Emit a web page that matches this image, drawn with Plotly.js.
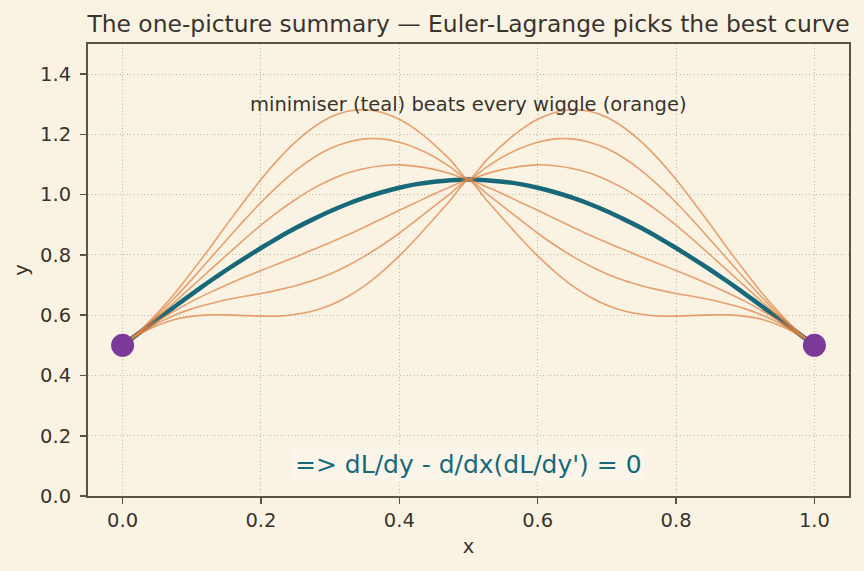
<!DOCTYPE html>
<html>
<head>
<meta charset="utf-8">
<script src="https://cdn.plot.ly/plotly-3.0.1.min.js"></script>
<style>
  html, body { margin: 0; padding: 0; background: #faf3e4; }
  #chart { width: 864px; height: 571px; }
</style>
</head>
<body>
<div id="chart"></div>
<script>
// sample positions along x
const xs = [0.000,0.025,0.050,0.075,0.100,0.125,0.150,0.175,0.200,0.225,0.250,0.275,0.300,0.325,0.350,0.375,0.400,0.425,0.450,0.475,0.500,
            0.525,0.550,0.575,0.600,0.625,0.650,0.675,0.700,0.725,0.750,0.775,0.800,0.825,0.850,0.875,0.900,0.925,0.950,0.975,1.000];

// the minimising curve
const yBest = [0.500,0.543,0.586,0.628,0.670,0.711,0.750,0.787,0.823,0.857,0.889,0.918,0.945,0.969,0.990,1.008,1.023,1.035,1.043,1.048,1.050,
               1.048,1.043,1.035,1.023,1.008,0.990,0.969,0.945,0.918,0.889,0.857,0.823,0.787,0.750,0.711,0.670,0.628,0.586,0.543,0.500];

// perturbed competitors (same end points, same midpoint)
const yUp3 = [0.500,0.548,0.606,0.671,0.744,0.820,0.899,0.976,1.050,1.117,1.175,1.222,1.257,1.277,1.282,1.273,1.250,1.214,1.167,1.112,1.050,
              1.112,1.167,1.214,1.250,1.273,1.282,1.277,1.257,1.222,1.175,1.117,1.050,0.976,0.899,0.820,0.744,0.671,0.606,0.548,0.500];
const yUp2 = [0.500,0.547,0.599,0.657,0.719,0.784,0.849,0.913,0.974,1.030,1.080,1.121,1.153,1.174,1.185,1.185,1.174,1.154,1.126,1.090,1.050,
              1.090,1.126,1.154,1.174,1.185,1.185,1.174,1.153,1.121,1.080,1.030,0.974,0.913,0.849,0.784,0.719,0.657,0.599,0.547,0.500];
const yUp1 = [0.500,0.545,0.593,0.643,0.695,0.747,0.799,0.850,0.899,0.944,0.984,1.020,1.049,1.072,1.087,1.096,1.099,1.094,1.084,1.069,1.050,
              1.069,1.084,1.094,1.099,1.096,1.087,1.072,1.049,1.020,0.984,0.944,0.899,0.850,0.799,0.747,0.695,0.643,0.593,0.545,0.500];
const yDn1 = [0.500,0.542,0.580,0.614,0.646,0.674,0.700,0.725,0.748,0.771,0.793,0.817,0.841,0.866,0.893,0.920,0.948,0.975,1.002,1.027,1.050,
              1.027,1.002,0.975,0.948,0.920,0.893,0.866,0.841,0.817,0.793,0.771,0.748,0.725,0.700,0.674,0.646,0.614,0.580,0.542,0.500];
const yDn2 = [0.500,0.540,0.573,0.600,0.621,0.637,0.651,0.662,0.672,0.684,0.698,0.715,0.737,0.764,0.796,0.832,0.872,0.916,0.961,1.006,1.050,
              1.006,0.961,0.916,0.872,0.832,0.796,0.764,0.737,0.715,0.698,0.684,0.672,0.662,0.651,0.637,0.621,0.600,0.573,0.540,0.500];
const yDn3 = [0.500,0.538,0.566,0.586,0.596,0.601,0.601,0.599,0.597,0.597,0.603,0.614,0.633,0.661,0.698,0.744,0.797,0.856,0.920,0.985,1.050,
              0.985,0.920,0.856,0.797,0.744,0.698,0.661,0.633,0.614,0.603,0.597,0.597,0.599,0.601,0.601,0.596,0.586,0.566,0.538,0.500];

// fixed boundary points
const xEnds = [0, 1];
const yEnds = [0.5, 0.5];

const TEAL = '#17697a';
const ORANGE = 'rgba(224,128,62,0.72)';
const PURPLE = '#7b3a98';
const INK = '#3a332d';
const BG = '#faf3e4';
const FONT = 'DejaVu Sans';

const wiggles = [yUp3, yUp2, yUp1, yDn1, yDn2, yDn3];

const traces = [
  {
    x: xs, y: yBest, mode: 'lines', type: 'scatter',
    line: { color: TEAL, width: 4.5, shape: 'spline', smoothing: 0.6 },
    hoverinfo: 'skip', showlegend: false
  }
];
wiggles.forEach(w => traces.push({
  x: xs, y: w, mode: 'lines', type: 'scatter',
  line: { color: ORANGE, width: 1.6, shape: 'spline', smoothing: 0.6 },
  hoverinfo: 'skip', showlegend: false
}));
traces.push({
  x: xEnds, y: yEnds, mode: 'markers', type: 'scatter',
  marker: { color: PURPLE, size: 23 },
  hoverinfo: 'skip', showlegend: false
});

const axisCommon = {
  showline: true, mirror: true, linecolor: '#5c5347', linewidth: 2,
  ticks: 'outside', ticklen: 6, tickwidth: 1.6, tickcolor: '#5c5347',
  showgrid: true, gridcolor: '#c4baab', gridwidth: 1, griddash: '1px,2.5px',
  zeroline: false,
  tickfont: { family: FONT, size: 19.5, color: INK },
  tickformat: '.1f'
};

const layout = {
  width: 864, height: 571,
  paper_bgcolor: BG, plot_bgcolor: BG,
  margin: { l: 88, r: 15, t: 44, b: 75 },
  font: { family: FONT, color: INK },
  title: {
    text: 'The one-picture summary \u2014 Euler-Lagrange picks the best curve',
    font: { family: FONT, size: 23.4, color: INK },
    xref: 'paper', x: 0.5, xanchor: 'center',
    yref: 'container', y: 0.958, yanchor: 'middle'
  },
  xaxis: Object.assign({}, axisCommon, {
    range: [-0.05, 1.05], dtick: 0.2, tick0: 0,
    title: { text: 'x', font: { family: FONT, size: 19.5, color: INK }, standoff: 8 }
  }),
  yaxis: Object.assign({}, axisCommon, {
    range: [0, 1.5], dtick: 0.2, tick0: 0, ticklabelstandoff: 5,
    title: { text: 'y', font: { family: FONT, size: 19.5, color: INK }, standoff: 6 }
  }),
  annotations: [
    {
      x: 0.5, y: 1.30, xref: 'x', yref: 'y', showarrow: false,
      text: 'minimiser (teal) beats every wiggle (orange)',
      font: { family: FONT, size: 19.5, color: INK },
      xanchor: 'center', yanchor: 'middle'
    },
    {
      x: 0.5, y: 0.105, xref: 'x', yref: 'y', showarrow: false,
      text: "=> dL/dy - d/dx(dL/dy') = 0",
      font: { family: FONT, size: 25, color: TEAL },
      bgcolor: 'rgba(252,247,237,0.6)', borderpad: 3,
      xanchor: 'center', yanchor: 'middle'
    }
  ]
};

Plotly.newPlot('chart', traces, layout, { displayModeBar: false, staticPlot: true });
</script>
</body>
</html>
